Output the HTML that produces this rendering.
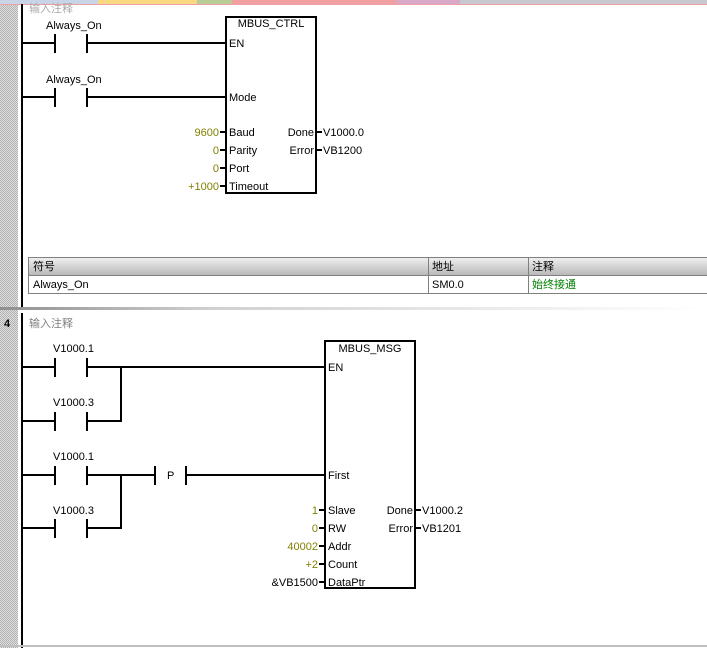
<!DOCTYPE html>
<html><head><meta charset="utf-8"><style>
html,body{margin:0;padding:0;background:#fff;width:707px;height:648px;overflow:hidden}
svg{display:block}
text{font-family:"Liberation Sans","Noto Sans CJK SC",sans-serif;font-size:11px;fill:#000}
.o{fill:#808000}
.r{text-anchor:end}
</style></head><body>
<svg width="707" height="648" viewBox="0 0 707 648">
<defs>
<pattern id="dots" width="2" height="2" patternUnits="userSpaceOnUse"><rect width="2" height="2" fill="#e0e0e0"/><rect width="1" height="1" fill="#b0b0b0"/><rect x="1" y="1" width="1" height="1" fill="#b0b0b0"/></pattern>
<linearGradient id="hdr" x1="0" y1="0" x2="0" y2="1"><stop offset="0" stop-color="#f0f0f0"/><stop offset="1" stop-color="#b8b8b8"/></linearGradient>
<linearGradient id="sep" x1="0" y1="0" x2="1" y2="0"><stop offset="0" stop-color="#909090"/><stop offset="0.3" stop-color="#d0d0d0"/><stop offset="1" stop-color="#ffffff"/></linearGradient>
</defs>
<rect x="0" y="0" width="18" height="648" fill="url(#dots)"/>
<!-- top tabs -->
<rect x="0" y="0" width="707" height="5" fill="#f0a0a0"/>
<rect x="0" y="0" width="98" height="4" fill="#c8d4e8"/>
<rect x="98" y="0" width="99" height="4" fill="#f8d880"/>
<rect x="197" y="0" width="35" height="4" fill="#b8cc98"/>
<rect x="397" y="0" width="63" height="4" fill="#d8a8c8"/>
<rect x="460" y="0" width="247" height="4" fill="#c8c8d0"/>
<text x="29" y="12" fill="#aaa" style="fill:#aaa">输入注释</text>
<g stroke="#000" stroke-width="2" fill="none">
<line x1="22" y1="4" x2="22" y2="307"/>
<line x1="22" y1="313" x2="22" y2="648"/>
<!-- network1 -->
<line x1="22" y1="43" x2="55" y2="43"/><line x1="55" y1="34" x2="55" y2="53"/><line x1="87" y1="34" x2="87" y2="53"/><line x1="87" y1="43" x2="226" y2="43"/>
<line x1="22" y1="97" x2="55" y2="97"/><line x1="55" y1="88" x2="55" y2="107"/><line x1="87" y1="88" x2="87" y2="107"/><line x1="87" y1="97" x2="226" y2="97"/>
<rect x="226" y="17" width="90" height="176"/>
<line x1="220" y1="132" x2="226" y2="132"/><line x1="220" y1="150" x2="226" y2="150"/><line x1="220" y1="168" x2="226" y2="168"/><line x1="220" y1="186" x2="226" y2="186"/>
<line x1="316" y1="132" x2="322" y2="132"/><line x1="316" y1="150" x2="322" y2="150"/>
<!-- network2 -->
<line x1="22" y1="367" x2="55" y2="367"/><line x1="55" y1="358" x2="55" y2="377"/><line x1="87" y1="358" x2="87" y2="377"/><line x1="87" y1="367" x2="325" y2="367"/>
<line x1="22" y1="421" x2="55" y2="421"/><line x1="55" y1="412" x2="55" y2="431"/><line x1="87" y1="412" x2="87" y2="431"/><line x1="87" y1="421" x2="121" y2="421"/><line x1="121" y1="366" x2="121" y2="422"/>
<line x1="22" y1="475" x2="55" y2="475"/><line x1="55" y1="466" x2="55" y2="485"/><line x1="87" y1="466" x2="87" y2="485"/><line x1="87" y1="475" x2="155" y2="475"/>
<line x1="155" y1="466" x2="155" y2="485"/><line x1="186" y1="466" x2="186" y2="485"/><line x1="186" y1="475" x2="325" y2="475"/>
<line x1="22" y1="528" x2="55" y2="528"/><line x1="55" y1="519" x2="55" y2="538"/><line x1="87" y1="519" x2="87" y2="538"/><line x1="87" y1="528" x2="121" y2="528"/><line x1="121" y1="474" x2="121" y2="529"/>
<rect x="325" y="341" width="90" height="247"/>
<line x1="319" y1="510" x2="325" y2="510"/><line x1="319" y1="528" x2="325" y2="528"/><line x1="319" y1="546" x2="325" y2="546"/><line x1="319" y1="564" x2="325" y2="564"/><line x1="319" y1="582" x2="325" y2="582"/>
<line x1="415" y1="510" x2="421" y2="510"/><line x1="415" y1="528" x2="421" y2="528"/>
</g>
<!-- network1 text -->
<text x="46" y="29">Always_On</text>
<text x="46" y="83">Always_On</text>
<text x="271" y="27" text-anchor="middle">MBUS_CTRL</text>
<text x="229" y="47">EN</text>
<text x="229" y="101">Mode</text>
<text x="229" y="136">Baud</text><text x="229" y="154">Parity</text><text x="229" y="172">Port</text><text x="229" y="190">Timeout</text>
<text x="219" y="136" class="o r">9600</text><text x="219" y="154" class="o r">0</text><text x="219" y="172" class="o r">0</text><text x="219" y="190" class="o r">+1000</text>
<text x="314" y="136" class="r">Done</text><text x="314" y="154" class="r">Error</text>
<text x="323" y="136">V1000.0</text><text x="323" y="154">VB1200</text>
<!-- table -->
<rect x="28.5" y="257.5" width="680" height="18" fill="url(#hdr)" stroke="#808080"/>
<rect x="28.5" y="275.5" width="680" height="18" fill="#fff" stroke="#808080"/>
<line x1="428.5" y1="257" x2="428.5" y2="294" stroke="#808080"/>
<line x1="528.5" y1="257" x2="528.5" y2="294" stroke="#808080"/>
<text x="33" y="270">符号</text><text x="432" y="270">地址</text><text x="532" y="270">注释</text>
<text x="33" y="288">Always_On</text><text x="432" y="288">SM0.0</text><text x="532" y="288" style="fill:#008000">始终接通</text>
<!-- separator -->
<rect x="0" y="307" width="707" height="3" fill="url(#sep)"/>
<text x="4" y="327" style="font-weight:bold">4</text>
<text x="29" y="327" style="fill:#808080">输入注释</text>
<!-- network2 text -->
<text x="53" y="352">V1000.1</text>
<text x="53" y="406">V1000.3</text>
<text x="53" y="460">V1000.1</text>
<text x="53" y="514">V1000.3</text>
<text x="167" y="479">P</text>
<text x="370" y="352" text-anchor="middle">MBUS_MSG</text>
<text x="328" y="371">EN</text>
<text x="328" y="479">First</text>
<text x="328" y="514">Slave</text><text x="328" y="532">RW</text><text x="328" y="550">Addr</text><text x="328" y="568">Count</text><text x="328" y="586">DataPtr</text>
<text x="318" y="514" class="o r">1</text><text x="318" y="532" class="o r">0</text><text x="318" y="550" class="o r">40002</text><text x="318" y="568" class="o r">+2</text><text x="318" y="586" class="r">&amp;VB1500</text>
<text x="413" y="514" class="r">Done</text><text x="413" y="532" class="r">Error</text>
<text x="422" y="514">V1000.2</text><text x="422" y="532">VB1201</text>
<line x1="0" y1="646" x2="707" y2="646" stroke="#c0c0c0" stroke-width="2"/>
</svg>
</body></html>
